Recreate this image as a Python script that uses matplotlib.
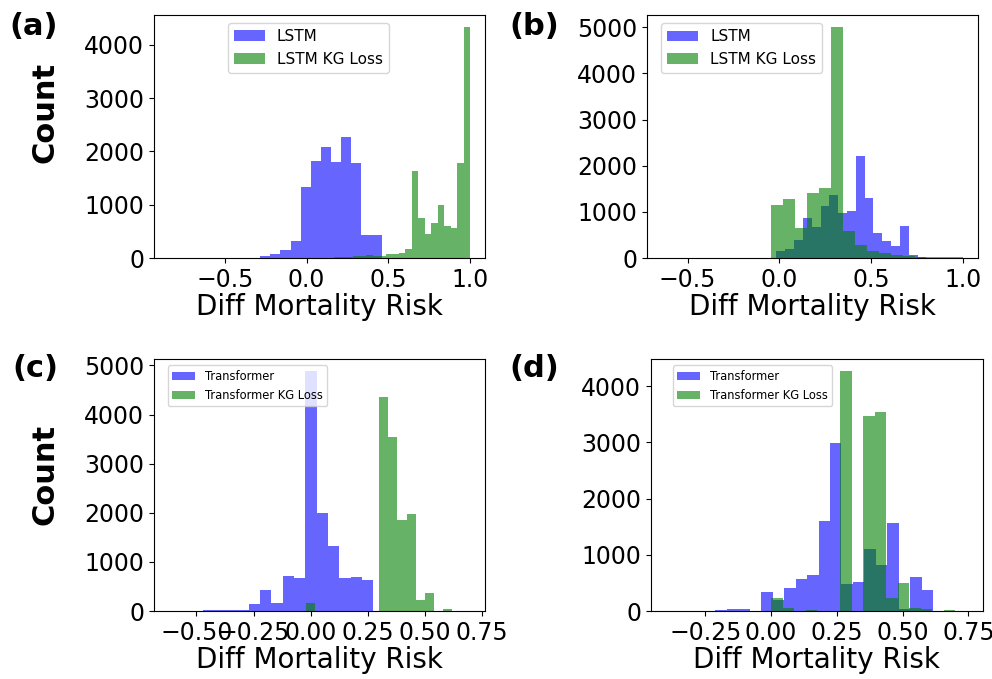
import matplotlib
matplotlib.use('Agg')
import matplotlib.pyplot as plt
import numpy as np

# ---- (a) LSTM vs LSTM KG Loss ----
a_blue_range = (-0.84, 0.46)
a_blue = [0, 1, 0, 1, 1, 2, 2, 3, 5,
          31, 69, 157, 314, 1340, 1818, 2075, 1811, 2270, 1792, 428, 428]
a_green_range = (-0.19, 1.0)
a_green = [0, 0, 0, 1, 1, 2, 3, 4, 6, 10, 15, 20, 30, 40, 50, 45, 40,
           70, 82, 100, 176,
           1635, 742, 459, 660, 994, 610, 566, 1780, 4346]

# ---- (b) LSTM vs LSTM KG Loss ----
b_blue_range = (-0.64, 0.80)
b_blue = [0, 0, 0, 0, 1, 0, 1, 1, 1, 2, 3, 4, 8,
          160, 189, 392, 864, 682, 1125, 1357, 980, 1009, 2213, 1306, 544,
          377, 254, 704, 73, 30]
b_green_range = (-0.047, 1.0)
b_green = [1154, 1270, 653, 1415, 1524, 5014, 595, 290, 160, 100, 73, 50,
           30, 25, 20, 15]

# ---- (c) Transformer vs Transformer KG Loss ----
c_blue_range = (-0.62, 0.275)
c_blue = [2, 3, 3, 15, 20, 20, 15,
          150, 436, 170, 715, 674, 4884, 1989, 1322, 674, 702, 640]
c_green_range = (-0.02, 0.70)
c_green = [170, 0, 0, 0, 0, 5, 5, 5, 4353, 3542, 1853, 1982, 232, 368, 0,
           41, 10, 10]

# ---- (d) Transformer vs Transformer KG Loss ----
d_blue_range = (-0.388, 0.617)
d_blue = [0, 2, 3, 5, 24, 42, 42, 5,
          345, 200, 405, 565, 643, 1595, 2988, 476, 524, 1107, 815, 1560,
          30, 613, 369]
d_green_range = (0.0, 0.70)
d_green = [230, 48, 5, 18, 5, 5, 4268, 0, 3476, 3536, 226, 500, 60, 30,
           5, 12]

panels = [
    dict(tag='(a)', blue=(a_blue_range, a_blue), green=(a_green_range, a_green),
         names=('LSTM', 'LSTM KG Loss'), xlim=(-0.934, 1.092),
         xticks=[-0.5, 0.0, 0.5, 1.0], ymax=4000,
         pos=[0.155, 0.620, 0.334, 0.358], tagxy=(34, 12),
         leg=(0.224, 0.967), legsize=11, ylabel=0.60),
    dict(tag='(b)', blue=(b_blue_range, b_blue), green=(b_green_range, b_green),
         names=('LSTM', 'LSTM KG Loss'), xlim=(-0.722, 1.082),
         xticks=[-0.5, 0.0, 0.5, 1.0], ymax=5000,
         pos=[0.652, 0.620, 0.334, 0.358], tagxy=(534, 12),
         leg=(0.0435, 0.966), legsize=11, ylabel=None),
    dict(tag='(c)', blue=(c_blue_range, c_blue), green=(c_green_range, c_green),
         names=('Transformer', 'Transformer KG Loss'), xlim=(-0.687, 0.764),
         xticks=[-0.5, -0.25, 0.0, 0.25, 0.5, 0.75], ymax=5000,
         pos=[0.155, 0.100, 0.334, 0.371], tagxy=(35, 354),
         leg=(0.042, 0.976), legsize=8.3, ylabel=0.544),
    dict(tag='(d)', blue=(d_blue_range, d_blue), green=(d_green_range, d_green),
         names=('Transformer', 'Transformer KG Loss'), xlim=(-0.458, 0.806),
         xticks=[-0.25, 0.0, 0.25, 0.5, 0.75], ymax=4000,
         pos=[0.656, 0.100, 0.335, 0.371], tagxy=(534, 354),
         leg=(0.066, 0.976), legsize=8.3, ylabel=None),
]

W, H = 992, 679
fig = plt.figure(figsize=(W / 100, H / 100), dpi=100)

for p in panels:
    ax = fig.add_axes(p['pos'])
    for (rng, counts), col, name in [(p['blue'], 'blue', p['names'][0]),
                                     (p['green'], 'green', p['names'][1])]:
        edges = np.linspace(rng[0], rng[1], len(counts) + 1)
        ax.hist(edges[:-1], bins=edges, weights=counts, color=col,
                alpha=0.6, label=name)
    ax.set_xlim(p['xlim'])
    ax.set_xticks(p['xticks'])
    ax.set_yticks(np.arange(0, p['ymax'] + 1, 1000))
    ax.tick_params(labelsize=17)
    ax.set_xlabel('Diff Mortality Risk', fontsize=20, labelpad=1)
    if p['ylabel'] is not None:
        ax.set_ylabel('Count', fontsize=22, fontweight='bold')
        ax.yaxis.set_label_coords(-0.284, p['ylabel'])
    ax.legend(loc='upper left', bbox_to_anchor=p['leg'], borderaxespad=0,
              fontsize=p['legsize'])
    fig.text(p['tagxy'][0] / W, 1 - p['tagxy'][1] / H, p['tag'], fontsize=22,
             fontweight='bold', ha='center', va='top')

fig.savefig('out.png', dpi=100)
